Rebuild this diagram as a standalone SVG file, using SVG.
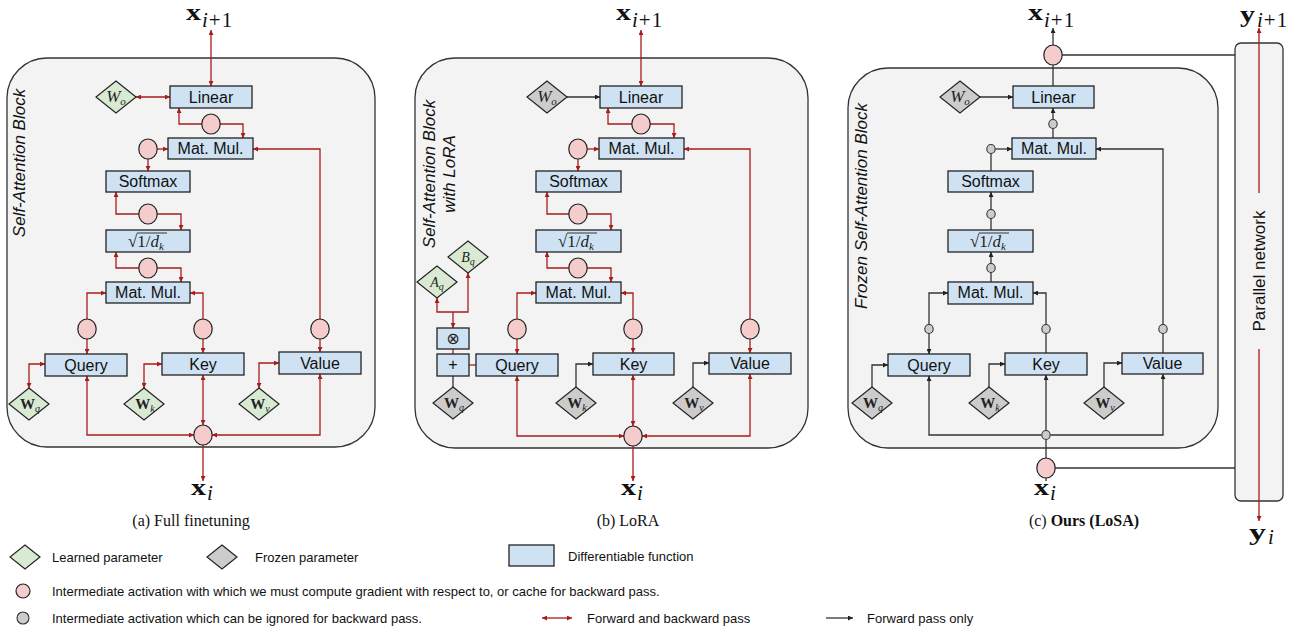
<svg xmlns="http://www.w3.org/2000/svg" width="1302" height="637" viewBox="0 0 1302 637">
<style>
.blk{fill:#f3f3f3;stroke:#333;stroke-width:1.3}
.box{fill:#cfe2f3;stroke:#222;stroke-width:1.3}
.lp{fill:#d9ead3;stroke:#222;stroke-width:1.2}
.fp{fill:#cccccc;stroke:#222;stroke-width:1.2}
.pk{fill:#f4cccc;stroke:#222;stroke-width:1.2}
.gc{fill:#cccccc;stroke:#333;stroke-width:1.1}
.r{fill:none;stroke:#a81c1c;stroke-width:1.3}
.k{fill:none;stroke:#333;stroke-width:1.3}
.ra{marker-end:url(#ar)}
.rs{marker-start:url(#ar)}
.ka{marker-end:url(#ak)}
.ks{marker-start:url(#ak)}
.bt{font-family:"Liberation Sans",Arial,sans-serif;font-size:16px;fill:#111;text-anchor:middle}
.rt{font-family:"Liberation Sans",Arial,sans-serif;font-size:17px;font-style:italic;fill:#111;text-anchor:middle}
.pt{font-family:"Liberation Sans",Arial,sans-serif;font-size:17px;fill:#111;text-anchor:middle}
.lg{font-family:"Liberation Sans",Arial,sans-serif;font-size:13px;fill:#111}
.cap{font-family:"Liberation Serif","Times New Roman",serif;font-size:16px;fill:#111;text-anchor:middle}
.mx{font-family:"Liberation Serif","Times New Roman",serif;font-size:24px;font-weight:bold;fill:#111}
.ms{font-family:"Liberation Serif","Times New Roman",serif;font-size:21px;fill:#111}
.wt{font-family:"Liberation Serif","Times New Roman",serif;fill:#222;text-anchor:middle}
.sq{font-family:"Liberation Serif","Times New Roman",serif;font-size:17px;fill:#222}
</style>
<defs>
<marker id="ar" viewBox="0 0 10 10" refX="10" refY="5" markerWidth="5.5" markerHeight="5" markerUnits="userSpaceOnUse" orient="auto-start-reverse"><path d="M0,0 L10,5 L0,10 z" fill="#a81c1c"/></marker>
<marker id="ak" viewBox="0 0 10 10" refX="10" refY="5" markerWidth="5.5" markerHeight="5" markerUnits="userSpaceOnUse" orient="auto-start-reverse"><path d="M0,0 L10,5 L0,10 z" fill="#222"/></marker>
</defs>

<!-- ===== Panel (a) ===== -->
<g id="panelA">
<g id="blockA"><rect class="blk" x="7" y="58" width="368" height="389" rx="40"/>
<text class="rt" transform="translate(25,163) rotate(-90)">Self-Attention Block</text></g>

<g id="connA">
<path class="r ra rs" d="M211,30 L211,86"/>
<path class="r ra rs" d="M136,97 L170,97"/>
<path class="r rs" d="M179,108 L179,124 L202,124"/>
<path class="r ra" d="M220,124 L243,124 L243,138"/>
<path class="r ra" d="M157,149 L168,149"/>
<path class="r ra" d="M148,159 L148,171"/>
<path class="r rs" d="M116,192 L116,214 L139,214"/>
<path class="r ra" d="M157,214 L181,214 L181,230"/>
<path class="r rs" d="M116,252 L116,268 L139,268"/>
<path class="r ra" d="M157,268 L181,268 L181,282"/>
<path class="r ra" d="M87,319 L87,293 L106,293"/>
<path class="r ra" d="M87,339 L87,354"/>
<path class="r ra" d="M203,319 L203,293 L190,293"/>
<path class="r ra" d="M203,339 L203,353"/>
<path class="r ra" d="M320,319 L320,149 L253,149"/>
<path class="r ra" d="M320,339 L320,352"/>
<path class="r ra rs" d="M29,388 L29,364 L45,364"/>
<path class="r ra rs" d="M144,388 L144,364 L162,364"/>
<path class="r ra rs" d="M259,388 L259,363 L279,363"/>
<path class="r ra rs" d="M203,375 L203,425"/>
<path class="r ra rs" d="M194,435 L87,435 L87,376"/>
<path class="r ra rs" d="M212,435 L320,435 L320,374"/>
<path class="r ra" d="M203,445 L203,481"/>
</g>

<g id="linearA"><rect class="box" x="170" y="86" width="82" height="22"/><text class="bt" x="211" y="103">Linear</text></g>
<g id="woA"><polygon class="lp" points="116,81 136,97 116,113 96,97"/><text class="wt" x="116" y="102" font-style="italic"><tspan font-size="17">W</tspan><tspan font-size="11" dy="3">o</tspan></text></g>
<g id="cA1"><ellipse class="pk" cx="211" cy="124" rx="9.2" ry="10"/></g>
<g id="matmulA1"><rect class="box" x="168" y="138" width="85" height="21"/><text class="bt" x="210.5" y="154">Mat. Mul.</text></g>
<g id="cA2"><ellipse class="pk" cx="148" cy="149" rx="9.2" ry="10"/></g>
<g id="softmaxA"><rect class="box" x="106" y="171" width="84" height="21"/><text class="bt" x="148" y="187">Softmax</text></g>
<g id="cA3"><ellipse class="pk" cx="148" cy="214" rx="9.2" ry="10"/></g>
<g id="sqrtA"><rect class="box" x="106" y="230" width="84" height="22"/><text class="sq" x="128" y="247">√1/<tspan font-style="italic">d</tspan><tspan font-style="italic" font-size="11" dy="3">k</tspan></text><line x1="137" y1="233" x2="167" y2="233" stroke="#222" stroke-width="0.9"/></g>
<g id="cA4"><ellipse class="pk" cx="148" cy="268" rx="9.2" ry="10"/></g>
<g id="matmulA2"><rect class="box" x="106" y="282" width="84" height="21"/><text class="bt" x="148" y="298">Mat. Mul.</text></g>
<g id="cAq"><ellipse class="pk" cx="87" cy="329" rx="9.2" ry="10"/></g>
<g id="cAk"><ellipse class="pk" cx="203" cy="329" rx="9.2" ry="10"/></g>
<g id="cAv"><ellipse class="pk" cx="320" cy="329" rx="9.2" ry="10"/></g>
<g id="queryA"><rect class="box" x="45" y="354" width="82" height="22"/><text class="bt" x="86" y="371">Query</text></g>
<g id="keyA"><rect class="box" x="162" y="353" width="82" height="22"/><text class="bt" x="203" y="370">Key</text></g>
<g id="valueA"><rect class="box" x="279" y="352" width="82" height="22"/><text class="bt" x="320" y="369">Value</text></g>
<g id="wqA"><polygon class="lp" points="29,388 49,404 29,420 9,404"/><text class="wt" x="30" y="409"><tspan font-size="15" font-weight="bold">W</tspan><tspan font-size="10" font-style="italic" dy="3">q</tspan></text></g>
<g id="wkA"><polygon class="lp" points="144,388 164,404 144,420 124,404"/><text class="wt" x="145" y="409"><tspan font-size="15" font-weight="bold">W</tspan><tspan font-size="10" font-style="italic" dy="3">k</tspan></text></g>
<g id="wvA"><polygon class="lp" points="259,388 279,404 259,420 239,404"/><text class="wt" x="260" y="409"><tspan font-size="15" font-weight="bold">W</tspan><tspan font-size="10" font-style="italic" dy="3">v</tspan></text></g>
<g id="cAin"><ellipse class="pk" cx="203" cy="435" rx="9.2" ry="10"/></g>
<g id="xoutA"><text class="mx" x="186" y="20" textLength="15" lengthAdjust="spacingAndGlyphs">x</text><text class="ms" x="202" y="27"><tspan font-style="italic">i</tspan><tspan dx="1">+</tspan><tspan dx="1">1</tspan></text></g>
<g id="xinA"><text class="mx" x="191" y="495" textLength="15" lengthAdjust="spacingAndGlyphs">x</text><text class="ms" x="207" y="500" font-style="italic">i</text></g>
<text class="cap" x="191" y="526">(a) Full finetuning</text>
</g>

<!-- ===== Panel (b) ===== -->
<g id="panelB">
<g id="blockB"><rect class="blk" x="415" y="58" width="393" height="390" rx="40"/>
<text class="rt" transform="translate(435,174) rotate(-90)">Self-Attention Block</text>
<text class="rt" transform="translate(455,174) rotate(-90)">with LoRA</text></g>

<g id="connB">
<path class="r ra rs" d="M641,30 L641,86"/>
<path class="k ka" d="M567,97 L600,97"/>
<path class="r rs" d="M608,108 L608,124 L632,124"/>
<path class="r ra" d="M650,124 L674,124 L674,138"/>
<path class="r ra" d="M587,149 L599,149"/>
<path class="r ra" d="M578,159 L578,171"/>
<path class="r rs" d="M547,192 L547,214 L569,214"/>
<path class="r ra" d="M587,214 L611,214 L611,230"/>
<path class="r rs" d="M547,252 L547,268 L569,268"/>
<path class="r ra" d="M587,268 L611,268 L611,282"/>
<path class="r ra" d="M517,319 L517,293 L536,293"/>
<path class="r ra" d="M517,339 L517,354"/>
<path class="r ra" d="M633,319 L633,293 L621,293"/>
<path class="r ra" d="M633,339 L633,353"/>
<path class="r ra" d="M750,319 L750,149 L684,149"/>
<path class="r ra" d="M750,339 L750,353"/>
<path class="k ka" d="M576,387 L576,364 L593,364"/>
<path class="k ka" d="M693,387 L693,363 L709,363"/>
<path class="k" d="M453,387 L453,376"/>
<path class="r" d="M453,349 L453,354"/>
<path class="r" d="M469,365 L476,365"/>
<path class="r rs" d="M453,328 L453,312"/>
<path class="r ra" d="M453,312 L437,312 L437,298"/>
<path class="r ra" d="M453,312 L468,312 L468,273"/>
<path class="r ra rs" d="M633,375 L633,426"/>
<path class="r ra rs" d="M624,436 L517,436 L517,376"/>
<path class="r ra rs" d="M642,436 L750,436 L750,374"/>
<path class="r ra" d="M633,446 L633,481"/>
</g>

<g id="linearB"><rect class="box" x="600" y="86" width="82" height="22"/><text class="bt" x="641" y="103">Linear</text></g>
<g id="woB"><polygon class="fp" points="547,81 567,97 547,113 527,97"/><text class="wt" x="547" y="102" font-style="italic"><tspan font-size="17">W</tspan><tspan font-size="11" dy="3">o</tspan></text></g>
<g id="cB1"><ellipse class="pk" cx="641" cy="124" rx="9.2" ry="10"/></g>
<g id="matmulB1"><rect class="box" x="599" y="138" width="85" height="21"/><text class="bt" x="641.5" y="154">Mat. Mul.</text></g>
<g id="cB2"><ellipse class="pk" cx="578" cy="149" rx="9.2" ry="10"/></g>
<g id="softmaxB"><rect class="box" x="536" y="171" width="85" height="21"/><text class="bt" x="578.5" y="187">Softmax</text></g>
<g id="cB3"><ellipse class="pk" cx="578" cy="214" rx="9.2" ry="10"/></g>
<g id="sqrtB"><rect class="box" x="536" y="230" width="85" height="22"/><text class="sq" x="558" y="247">√1/<tspan font-style="italic">d</tspan><tspan font-style="italic" font-size="11" dy="3">k</tspan></text><line x1="567" y1="233" x2="597" y2="233" stroke="#222" stroke-width="0.9"/></g>
<g id="cB4"><ellipse class="pk" cx="578" cy="268" rx="9.2" ry="10"/></g>
<g id="matmulB2"><rect class="box" x="536" y="282" width="85" height="21"/><text class="bt" x="578.5" y="298">Mat. Mul.</text></g>
<g id="cBq"><ellipse class="pk" cx="517" cy="329" rx="9.2" ry="10"/></g>
<g id="cBk"><ellipse class="pk" cx="633" cy="329" rx="9.2" ry="10"/></g>
<g id="cBv"><ellipse class="pk" cx="750" cy="329" rx="9.2" ry="10"/></g>
<g id="queryB"><rect class="box" x="476" y="354" width="82" height="22"/><text class="bt" x="517" y="371">Query</text></g>
<g id="keyB"><rect class="box" x="593" y="353" width="81" height="22"/><text class="bt" x="633.5" y="370">Key</text></g>
<g id="valueB"><rect class="box" x="709" y="353" width="82" height="21"/><text class="bt" x="750" y="369">Value</text></g>
<g id="otimesB"><rect class="box" x="437" y="328" width="32" height="21"/><text x="453" y="344" font-family="'DejaVu Sans',sans-serif" font-size="16" fill="#222" text-anchor="middle">⊗</text></g>
<g id="plusB"><rect class="box" x="437" y="354" width="32" height="22"/><text class="bt" x="453" y="370">+</text></g>
<g id="aqB"><polygon class="lp" points="437,266 457,282 437,298 417,282"/><text class="wt" x="437" y="287" font-style="italic"><tspan font-size="14">A</tspan><tspan font-size="10" dy="3">q</tspan></text></g>
<g id="bqB"><polygon class="lp" points="468,241 488,257 468,273 448,257"/><text class="wt" x="468" y="262" font-style="italic"><tspan font-size="14">B</tspan><tspan font-size="10" dy="3">q</tspan></text></g>
<g id="wqB"><polygon class="fp" points="453,387 473,403 453,419 433,403"/><text class="wt" x="454" y="408"><tspan font-size="15" font-weight="bold">W</tspan><tspan font-size="10" font-style="italic" dy="3">q</tspan></text></g>
<g id="wkB"><polygon class="fp" points="576,387 596,403 576,419 556,403"/><text class="wt" x="577" y="408"><tspan font-size="15" font-weight="bold">W</tspan><tspan font-size="10" font-style="italic" dy="3">k</tspan></text></g>
<g id="wvB"><polygon class="fp" points="693,387 713,403 693,419 673,403"/><text class="wt" x="694" y="408"><tspan font-size="15" font-weight="bold">W</tspan><tspan font-size="10" font-style="italic" dy="3">v</tspan></text></g>
<g id="cBin"><ellipse class="pk" cx="633" cy="436" rx="9.2" ry="10"/></g>
<g id="xoutB"><text class="mx" x="616" y="20" textLength="15" lengthAdjust="spacingAndGlyphs">x</text><text class="ms" x="632" y="27"><tspan font-style="italic">i</tspan><tspan dx="1">+</tspan><tspan dx="1">1</tspan></text></g>
<g id="xinB"><text class="mx" x="621" y="495" textLength="15" lengthAdjust="spacingAndGlyphs">x</text><text class="ms" x="637" y="500" font-style="italic">i</text></g>
<text class="cap" x="628" y="526">(b) LoRA</text>
</g>

<!-- ===== Panel (c) ===== -->
<g id="panelC">
<g id="blockC"><rect class="blk" x="848" y="68" width="370" height="380" rx="40"/>
<text class="rt" transform="translate(867,206) rotate(-90)">Frozen Self-Attention Block</text></g>

<g id="parallelC"><rect class="blk" x="1235" y="43" width="48" height="458" rx="6"/>
<text class="pt" transform="translate(1265,271) rotate(-90)">Parallel network</text></g>

<g id="connC">
<path class="k ka" d="M1053,45 L1053,28"/>
<path class="k" d="M1062,55 L1235,55"/>
<path class="k" d="M1053,65 L1053,86"/>
<path class="k ka" d="M980,97 L1013,97"/>
<path class="k" d="M1053,138 L1053,128.5"/>
<path class="k ka" d="M1053,119.5 L1053,108"/>
<path class="k ka" d="M995.5,149 L1012,149"/>
<path class="k" d="M991,153.5 L991,171"/>
<path class="k" d="M991,230 L991,218.5"/>
<path class="k ka" d="M991,209.5 L991,192"/>
<path class="k" d="M991,282 L991,272.5"/>
<path class="k ka" d="M991,263.5 L991,252"/>
<path class="k ka" d="M929,324.5 L929,293 L948,293"/>
<path class="k ka" d="M929,333.5 L929,354"/>
<path class="k ka" d="M1046,324.5 L1046,293 L1033,293"/>
<path class="k" d="M1046,333.5 L1046,353"/>
<path class="k ka" d="M1163,324.5 L1163,149 L1096,149"/>
<path class="k" d="M1163,333.5 L1163,353"/>
<path class="k ka" d="M872,387 L872,365 L888,365"/>
<path class="k ka" d="M989,387 L989,364 L1005,364"/>
<path class="k ka" d="M1104,387 L1104,363 L1122,363"/>
<path class="k ka" d="M1046,430.5 L1046,375"/>
<path class="k ka" d="M1041.5,435 L929,435 L929,376"/>
<path class="k ka" d="M1050.5,435 L1163,435 L1163,374"/>
<path class="k" d="M1046,458 L1046,439.5"/>
<path class="k" d="M1055,468 L1235,468"/>
<path class="k" d="M1046,478 L1046,481"/>
<path class="r ra" d="M1259,193 L1259,28"/>
<path class="r ra" d="M1259,349 L1259,521"/>
</g>

<g id="cCout"><ellipse class="pk" cx="1053" cy="55" rx="9.2" ry="10"/></g>
<g id="linearC"><rect class="box" x="1013" y="86" width="81" height="22"/><text class="bt" x="1053.5" y="103">Linear</text></g>
<g id="woC"><polygon class="fp" points="960,81 980,97 960,113 940,97"/><text class="wt" x="960" y="102" font-style="italic"><tspan font-size="17">W</tspan><tspan font-size="11" dy="3">o</tspan></text></g>
<g id="sC1"><ellipse class="gc" cx="1053" cy="124" rx="4.2" ry="4.5"/></g>
<g id="matmulC1"><rect class="box" x="1012" y="138" width="84" height="21"/><text class="bt" x="1054" y="154">Mat. Mul.</text></g>
<g id="sC2"><ellipse class="gc" cx="991" cy="149" rx="4.2" ry="4.5"/></g>
<g id="softmaxC"><rect class="box" x="948" y="171" width="85" height="21"/><text class="bt" x="990.5" y="187">Softmax</text></g>
<g id="sC3"><ellipse class="gc" cx="991" cy="214" rx="4.2" ry="4.5"/></g>
<g id="sqrtC"><rect class="box" x="948" y="230" width="85" height="22"/><text class="sq" x="970" y="247">√1/<tspan font-style="italic">d</tspan><tspan font-style="italic" font-size="11" dy="3">k</tspan></text><line x1="979" y1="233" x2="1009" y2="233" stroke="#222" stroke-width="0.9"/></g>
<g id="sC4"><ellipse class="gc" cx="991" cy="268" rx="4.2" ry="4.5"/></g>
<g id="matmulC2"><rect class="box" x="948" y="282" width="85" height="22"/><text class="bt" x="990.5" y="298">Mat. Mul.</text></g>
<g id="sCq"><ellipse class="gc" cx="929" cy="329" rx="4.2" ry="4.5"/></g>
<g id="sCk"><ellipse class="gc" cx="1046" cy="329" rx="4.2" ry="4.5"/></g>
<g id="sCv"><ellipse class="gc" cx="1163" cy="329" rx="4.2" ry="4.5"/></g>
<g id="queryC"><rect class="box" x="888" y="354" width="82" height="22"/><text class="bt" x="929" y="371">Query</text></g>
<g id="keyC"><rect class="box" x="1005" y="353" width="82" height="22"/><text class="bt" x="1046" y="370">Key</text></g>
<g id="valueC"><rect class="box" x="1122" y="353" width="81" height="21"/><text class="bt" x="1162.5" y="369">Value</text></g>
<g id="wqC"><polygon class="fp" points="872,387 892,403 872,419 852,403"/><text class="wt" x="873" y="408"><tspan font-size="15" font-weight="bold">W</tspan><tspan font-size="10" font-style="italic" dy="3">q</tspan></text></g>
<g id="wkC"><polygon class="fp" points="989,387 1009,403 989,419 969,403"/><text class="wt" x="990" y="408"><tspan font-size="15" font-weight="bold">W</tspan><tspan font-size="10" font-style="italic" dy="3">k</tspan></text></g>
<g id="wvC"><polygon class="fp" points="1104,387 1124,403 1104,419 1084,403"/><text class="wt" x="1105" y="408"><tspan font-size="15" font-weight="bold">W</tspan><tspan font-size="10" font-style="italic" dy="3">v</tspan></text></g>
<g id="sCin"><ellipse class="gc" cx="1046" cy="435" rx="4.2" ry="4.5"/></g>
<g id="cCin"><ellipse class="pk" cx="1046" cy="468" rx="9.2" ry="10"/></g>
<g id="xoutC"><text class="mx" x="1028" y="20" textLength="15" lengthAdjust="spacingAndGlyphs">x</text><text class="ms" x="1044" y="27"><tspan font-style="italic">i</tspan><tspan dx="1">+</tspan><tspan dx="1">1</tspan></text></g>
<g id="xinC"><text class="mx" x="1034" y="495" textLength="15" lengthAdjust="spacingAndGlyphs">x</text><text class="ms" x="1050" y="500" font-style="italic">i</text></g>
<g id="yout"><text class="mx" x="1240" y="22" textLength="15" lengthAdjust="spacingAndGlyphs">y</text><text class="ms" x="1257" y="27"><tspan font-style="italic">i</tspan><tspan dx="1">+</tspan><tspan dx="1">1</tspan></text></g>
<g id="yin"><text class="mx" x="1249" y="540" textLength="17" lengthAdjust="spacingAndGlyphs">y</text><text class="ms" x="1268" y="544" font-style="italic">i</text></g>
<text class="cap" x="1084" y="526">(c) <tspan font-weight="bold">Ours (LoSA)</tspan></text>
</g>

<!-- ===== Legend ===== -->
<g id="legend">
<g id="lgLearned"><polygon class="lp" points="25,545 40,557 25,569 10,557"/><text class="lg" x="52" y="562">Learned parameter</text></g>
<g id="lgFrozen"><polygon class="fp" points="222,545 237,557 222,569 207,557"/><text class="lg" x="255" y="562">Frozen parameter</text></g>
<g id="lgDiff"><rect class="box" x="509" y="545" width="45" height="21"/><text class="lg" x="568" y="561">Differentiable function</text></g>
<g id="lgPink"><ellipse class="pk" cx="23" cy="591" rx="7" ry="7"/><text class="lg" x="52" y="596">Intermediate activation with which we must compute gradient with respect to, or cache for backward pass.</text></g>
<g id="lgGray"><ellipse class="gc" cx="23" cy="618" rx="6" ry="6"/><text class="lg" x="52" y="623">Intermediate activation which can be ignored for backward pass.</text></g>
<g id="lgFB"><path class="r ra rs" d="M542,618 L572,618"/><text class="lg" x="587" y="623">Forward and backward pass</text></g>
<g id="lgF"><path class="k ka" d="M826,618 L853,618"/><text class="lg" x="867" y="623">Forward pass only</text></g>
</g>
</svg>
